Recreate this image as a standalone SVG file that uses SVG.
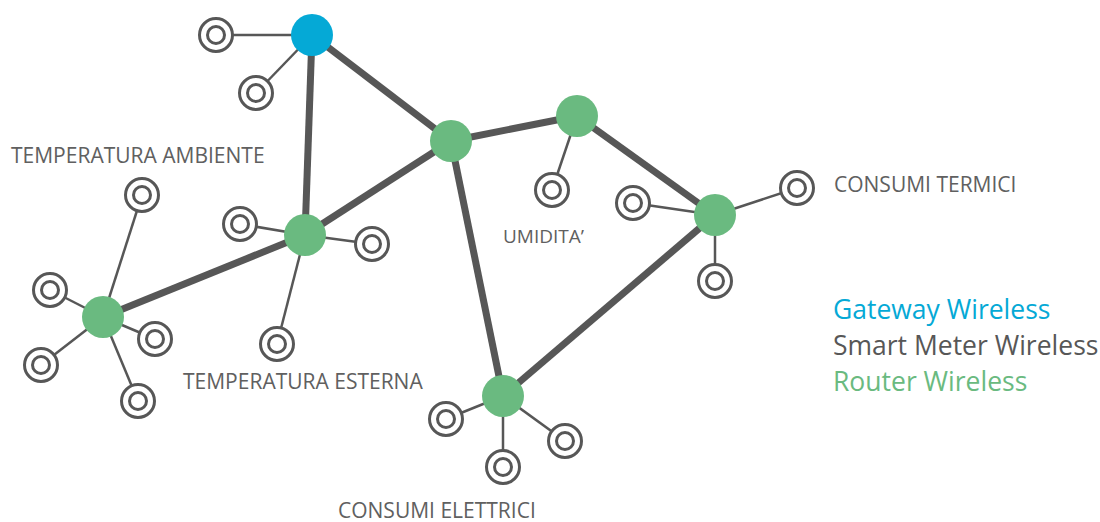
<svg xmlns="http://www.w3.org/2000/svg" width="1100" height="522" viewBox="0 0 1100 522">
<style>
.thick{stroke:#575757;stroke-width:7;fill:none}
.thin{stroke:#575757;stroke-width:2.5;fill:none}
.router{fill:#6aba80}
.gateway{fill:#05a9d6}
.mo{fill:#fff;stroke:#575757;stroke-width:3}
.mi{fill:none;stroke:#575757;stroke-width:3}
.lbl{font-family:"Open Sans","Liberation Sans",sans-serif;font-size:21px;fill:#606060}
.leg{font-family:"Open Sans","Liberation Sans",sans-serif;font-size:26.5px}
</style>
<defs>
<g id="meter"><circle r="16.5" class="mo"/><circle r="8.5" class="mi"/></g>
</defs>
<g id="connectors">
<line class="thin" x1="312" y1="35" x2="216" y2="35"/>
<line class="thin" x1="312" y1="35" x2="256" y2="93"/>
<line class="thin" x1="577" y1="116" x2="552" y2="190"/>
<line class="thin" x1="715" y1="215" x2="633" y2="203"/>
<line class="thin" x1="715" y1="215" x2="797" y2="188"/>
<line class="thin" x1="715" y1="215" x2="715" y2="281"/>
<line class="thin" x1="305" y1="235" x2="240" y2="224"/>
<line class="thin" x1="305" y1="235" x2="372" y2="244"/>
<line class="thin" x1="305" y1="235" x2="277" y2="344"/>
<line class="thin" x1="103" y1="317" x2="142" y2="195"/>
<line class="thin" x1="103" y1="317" x2="50" y2="290"/>
<line class="thin" x1="103" y1="317" x2="155" y2="339"/>
<line class="thin" x1="103" y1="317" x2="41" y2="365"/>
<line class="thin" x1="103" y1="317" x2="138" y2="401"/>
<line class="thin" x1="503" y1="396" x2="446" y2="419"/>
<line class="thin" x1="503" y1="396" x2="503" y2="467"/>
<line class="thin" x1="503" y1="396" x2="565" y2="441"/>
<line class="thick" x1="312" y1="35" x2="451" y2="141"/>
<line class="thick" x1="312" y1="35" x2="305" y2="235"/>
<line class="thick" x1="451" y1="141" x2="577" y2="116"/>
<line class="thick" x1="451" y1="141" x2="305" y2="235"/>
<line class="thick" x1="451" y1="141" x2="503" y2="396"/>
<line class="thick" x1="577" y1="116" x2="715" y2="215"/>
<line class="thick" x1="715" y1="215" x2="503" y2="396"/>
<line class="thick" x1="305" y1="235" x2="103" y2="317"/>
</g>
<g id="gateway"><circle class="gateway" cx="312" cy="35" r="21"/></g>
<g id="router1"><circle class="router" cx="451" cy="141" r="21"/></g>
<g id="router2"><circle class="router" cx="577" cy="116" r="21"/></g>
<g id="router3"><circle class="router" cx="715" cy="215" r="21"/></g>
<g id="router4"><circle class="router" cx="305" cy="235" r="21"/></g>
<g id="router5"><circle class="router" cx="103" cy="317" r="21"/></g>
<g id="router6"><circle class="router" cx="503" cy="396" r="21"/></g>
<g id="meters">
<use href="#meter" x="216" y="35"/>
<use href="#meter" x="256" y="93"/>
<use href="#meter" x="552" y="190"/>
<use href="#meter" x="633" y="203"/>
<use href="#meter" x="797" y="188"/>
<use href="#meter" x="715" y="281"/>
<use href="#meter" x="240" y="224"/>
<use href="#meter" x="372" y="244"/>
<use href="#meter" x="277" y="344"/>
<use href="#meter" x="142" y="195"/>
<use href="#meter" x="50" y="290"/>
<use href="#meter" x="155" y="339"/>
<use href="#meter" x="41" y="365"/>
<use href="#meter" x="138" y="401"/>
<use href="#meter" x="446" y="419"/>
<use href="#meter" x="503" y="467"/>
<use href="#meter" x="565" y="441"/>
</g>
<g id="labels">
<text class="lbl" x="11" y="163">TEMPERATURA AMBIENTE</text>
<text class="lbl" x="183" y="389">TEMPERATURA ESTERNA</text>
<text class="lbl" x="503" y="243" style="font-size:19px">UMIDITA’</text>
<text class="lbl" x="834" y="192">CONSUMI TERMICI</text>
<text class="lbl" x="338" y="518">CONSUMI ELETTRICI</text>
</g>
<g id="legend">
<text class="leg" x="833" y="319" fill="#05a9d6">Gateway Wireless</text>
<text class="leg" x="833" y="355" fill="#575757">Smart Meter Wireless</text>
<text class="leg" x="833" y="391" fill="#6aba80">Router Wireless</text>
</g>
</svg>
